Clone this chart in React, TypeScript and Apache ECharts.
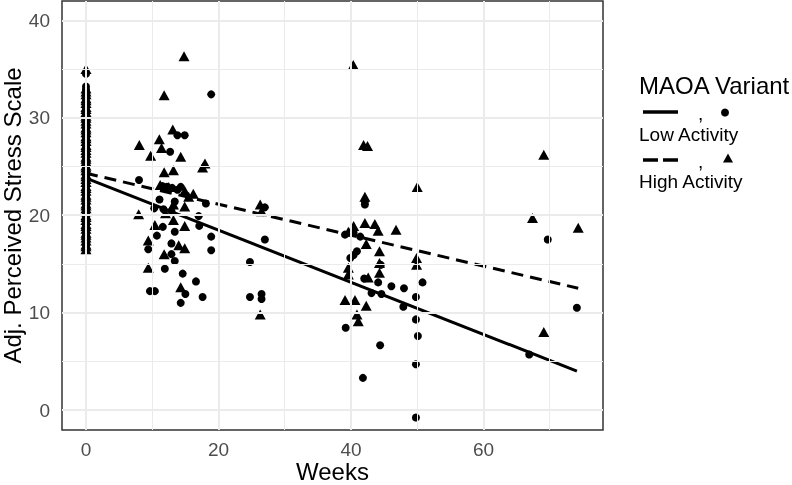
import React, { useEffect, useRef } from "react";
import * as echarts from "echarts";

// ---- data ----
const xTicks = [0, 20, 40, 60];
const xMinor = [10, 30, 50, 70];
const yTicks = [0, 10, 20, 30, 40];
const yMinor = [5, 15, 25, 35];

// Baseline (week 0) scores
const lowBaselineScores = [
  16.9, 17.2, 17.5, 17.9, 18.1, 18.4, 18.8, 19.0, 19.3, 19.7, 19.9, 20.2, 20.6, 20.9, 21.1, 21.5, 21.8, 22.0,
  22.4, 22.7, 23.0, 23.2, 23.6, 23.9, 24.1, 24.5, 24.8, 25.0, 25.3, 25.7, 26.0, 26.2, 26.6, 26.9, 27.1, 27.5,
  27.8, 28.0, 28.4, 28.7, 28.9, 29.3, 29.6, 29.9, 30.2, 30.5, 30.8, 31.1, 31.4, 31.7, 32.0, 32.3, 32.6, 32.9,
  33.2, 34.5,
];
const highBaselineScores = [
  16.5, 16.8, 17.0, 17.4, 17.7, 18.0, 18.2, 18.6, 18.9, 19.1, 19.5, 19.8, 20.0, 20.4, 20.7, 21.0, 21.2, 21.6,
  21.9, 22.1, 22.5, 22.8, 23.0, 23.4, 23.7, 24.0, 24.2, 24.6, 24.9, 25.1, 25.5, 25.8, 26.0, 26.4, 26.7, 27.0,
  27.2, 27.6, 27.9, 28.1, 28.5, 28.8, 29.0, 29.4, 29.7, 30.0, 30.2, 30.6, 30.9, 31.1, 31.5, 31.8, 32.0, 32.4,
  32.7, 33.0, 35.0,
];

// Low activity (circles) follow-up weeks and scores
const lowWeeks = [
  13.8, 14.9, 12.7, 8.0, 12.2, 13.0, 13.8, 14.3, 11.5, 11.1, 10.3, 11.7, 12.9, 13.4, 17.0, 11.6, 10.7, 13.4,
  18.9, 17.1, 9.4, 12.9, 18.9, 12.9, 13.4, 11.9, 14.6, 16.6, 9.65, 10.4, 15.0, 17.6, 14.3, 18.1, 18.9,
  27.0, 27.0, 24.75, 24.75, 26.5, 26.5,
  42.1, 39.1, 40.4, 41.4, 40.9, 40.4, 39.9, 44.5, 50.8, 42.0, 44.1, 46.1, 48.0, 43.1, 44.6, 49.8, 47.9,
  49.8, 39.2, 50.1, 44.4, 49.8, 41.8, 49.8, 42.1,
  69.7, 74.1, 66.9,
];
const lowScores = [
  28.2, 28.2, 26.5, 23.6, 22.9, 22.8, 22.6, 22.9, 23.0, 21.6, 20.7, 20.6, 20.4, 21.4, 19.9, 18.8, 17.9, 18.3,
  17.8, 18.9, 16.5, 17.1, 16.4, 16.0, 15.3, 14.5, 14.0, 13.2, 12.2, 12.2, 11.9, 11.6, 11.0, 21.2, 32.4,
  20.8, 17.5, 15.2, 11.6, 11.9, 11.4,
  21.4, 18.0, 18.2, 17.8, 16.3, 15.9, 15.6, 14.9, 13.1, 13.5, 13.1, 12.7, 12.5, 12.0, 11.9, 11.6, 10.6,
  9.3, 8.45, 7.6, 6.65, 4.7, 3.3, -0.76, 21.1,
  17.5, 10.5, 5.7,
];

// High activity (triangles) follow-up weeks and scores
const highWeeks = [
  14.8, 11.8, 8.05, 11.07, 13.1, 11.4, 9.76, 14.3, 17.96, 17.6, 11.8, 13.2, 11.2, 14.9, 16.2, 7.95, 13.2, 14.9,
  10.4, 13.2, 14.9, 9.4, 14.0, 14.9, 11.8, 9.4, 14.3, 12.0, 12.5, 15.5,
  26.3, 26.5, 26.3,
  40.35, 41.9, 42.5, 50.0, 42.1, 40.4, 42.1, 43.6, 44.1, 46.8, 39.6, 42.3, 44.3, 49.9, 49.9, 44.3, 44.3,
  39.6, 39.6, 42.6, 39.1, 40.6, 42.3, 40.9, 41.1,
  69.1, 67.4, 74.3, 69.1,
];
const highScores = [
  36.3, 32.3, 27.2, 27.8, 28.8, 26.9, 26.1, 26.0, 25.3, 24.9, 24.4, 24.6, 23.1, 22.5, 22.2, 20.1, 21.1, 20.9,
  19.0, 19.5, 18.9, 17.4, 16.9, 16.6, 16.0, 14.6, 12.6, 20.2, 22.9, 21.9,
  21.1, 20.4, 9.8,
  35.4, 27.2, 27.1, 22.9, 21.9, 18.9, 19.2, 19.1, 18.4, 18.5, 18.3, 17.05, 16.3, 15.6, 14.9, 15.1, 14.1,
  14.6, 13.9, 13.6, 11.3, 11.3, 10.7, 9.8, 9.1,
  26.2, 19.7, 18.7, 8.0,
];

// fitted regression lines (end points)
const lowFitWeeks = [0, 74.1];
const lowFitScores = [23.8, 4.0];
const highFitWeeks = [0, 74.3];
const highFitScores = [24.3, 12.5];

const legendTitle = "MAOA Variant";
const legendLabels = ["Low Activity", "High Activity"];

const FONT = "'Liberation Sans', Arial, Helvetica, sans-serif";

const zip = (a: number[], b: number[]) => a.map((v, i) => [v, b[i]]);
const atWeek0 = (s: number[]) => s.map((v) => [0, v]);

export default function App() {
  const ref = useRef<HTMLDivElement>(null);
  useEffect(() => {
    if (!ref.current) return;
    const chart = echarts.init(ref.current, null, { renderer: "svg" });
    const gridLines = [
      ...xTicks.map((v) => ({ xAxis: v, lineStyle: { width: 2 } })),
      ...xMinor.map((v) => ({ xAxis: v, lineStyle: { width: 1 } })),
      ...yTicks.map((v) => ({ yAxis: v, lineStyle: { width: 2 } })),
      ...yMinor.map((v) => ({ yAxis: v, lineStyle: { width: 1 } })),
    ];
    const tri = (cx: number, cy: number, w: number, h: number) => [
      [cx, cy - h / 2],
      [cx + w / 2, cy + h / 2],
      [cx - w / 2, cy + h / 2],
    ];
    chart.setOption({
      animation: false,
      textStyle: { fontFamily: FONT },
      grid: {
        left: 62,
        right: 189,
        top: 1,
        bottom: 55,
        containLabel: false,
        outerBoundsMode: "none",
        show: true,
        borderColor: "#333333",
        borderWidth: 1.5,
        backgroundColor: "#ffffff",
      },
      xAxis: {
        type: "value",
        min: -3.62,
        max: 78.04,
        name: "Weeks",
        nameLocation: "middle",
        nameGap: 31,
        nameMoveOverlap: false,
        nameTextStyle: { color: "#000", fontSize: 24, lineHeight: 20, fontFamily: FONT },
        axisLine: { show: false },
        axisTick: { show: true, length: 5, customValues: xTicks, lineStyle: { color: "#333333", width: 1.5 } },
        axisLabel: {
          customValues: xTicks,
          color: "#4d4d4d",
          fontSize: 19,
          lineHeight: 15,
          margin: 12,
          fontFamily: FONT,
        },
        splitLine: { show: false },
      },
      yAxis: {
        type: "value",
        min: -2.05,
        max: 41.98,
        name: "Adj. Perceived Stress Scale",
        nameLocation: "middle",
        nameGap: 39,
        nameMoveOverlap: false,
        nameTextStyle: { color: "#000", fontSize: 24, lineHeight: 22, fontFamily: FONT },
        axisLine: { show: false },
        axisTick: { show: true, length: 5, customValues: yTicks, lineStyle: { color: "#333333", width: 1.5 } },
        axisLabel: { customValues: yTicks, color: "#4d4d4d", fontSize: 19, margin: 12, fontFamily: FONT },
        splitLine: { show: false },
      },
      series: [
        {
          type: "scatter",
          data: [],
          z: 0,
          silent: true,
          markLine: {
            silent: true,
            symbol: "none",
            label: { show: false },
            animation: false,
            lineStyle: { color: "#ebebeb", type: "solid" },
            data: gridLines,
          },
        },
        {
          name: legendLabels[0],
          type: "line",
          data: zip(lowFitWeeks, lowFitScores),
          showSymbol: false,
          z: 3,
          lineStyle: { color: "#000", width: 3 },
        },
        {
          name: legendLabels[1],
          type: "line",
          data: zip(highFitWeeks, highFitScores),
          showSymbol: false,
          z: 3,
          lineStyle: { color: "#000", width: 3, type: [12, 7] },
        },
        {
          name: legendLabels[0],
          type: "scatter",
          data: [...atWeek0(lowBaselineScores), ...zip(lowWeeks, lowScores)],
          symbol: "circle",
          symbolSize: 8,
          z: 4,
          itemStyle: { color: "#000", opacity: 1 },
        },
        {
          name: legendLabels[1],
          type: "scatter",
          data: [...atWeek0(highBaselineScores), ...zip(highWeeks, highScores)],
          symbol: "triangle",
          symbolSize: [11, 10],
          z: 4,
          itemStyle: { color: "#000", opacity: 1 },
        },
      ],
      graphic: [
        {
          type: "text",
          left: 639,
          top: 73,
          style: { text: legendTitle, fontSize: 24, fill: "#000", fontFamily: FONT },
        },
        { type: "line", shape: { x1: 643, y1: 112, x2: 678, y2: 112 }, style: { stroke: "#000", lineWidth: 3.5 } },
        { type: "text", x: 698, y: 104, style: { text: ",", fontSize: 19, fill: "#000", fontFamily: FONT } },
        { type: "circle", shape: { cx: 725, cy: 112.5, r: 4 }, style: { fill: "#000" } },
        {
          type: "text",
          left: 639,
          top: 125,
          style: { text: legendLabels[0], fontSize: 19, fill: "#000", fontFamily: FONT },
        },
        {
          type: "line",
          shape: { x1: 643, y1: 160, x2: 678, y2: 160 },
          style: { stroke: "#000", lineWidth: 3.5, lineDash: [15, 5] },
        },
        { type: "text", x: 698, y: 152, style: { text: ",", fontSize: 19, fill: "#000", fontFamily: FONT } },
        { type: "polygon", shape: { points: tri(728, 158, 10, 9) }, style: { fill: "#000" } },
        {
          type: "text",
          left: 639,
          top: 172,
          style: { text: legendLabels[1], fontSize: 19, fill: "#000", fontFamily: FONT },
        },
      ],
    });
    return () => chart.dispose();
  }, []);
  return <div ref={ref} style={{ position: "fixed", left: 0, top: 0, width: 792, height: 485 }} />;
}
